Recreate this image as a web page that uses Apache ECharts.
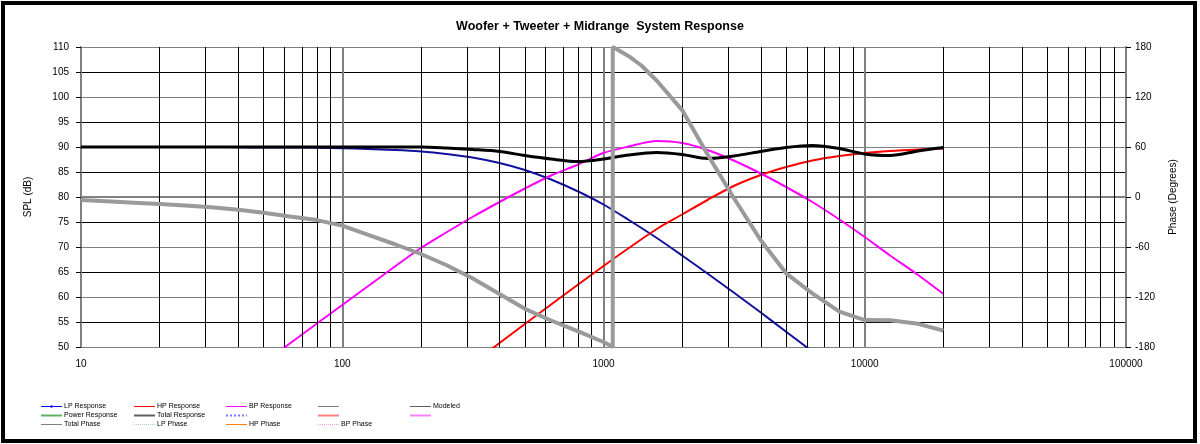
<!DOCTYPE html>
<html>
<head>
<meta charset="utf-8">
<script src="https://cdn.jsdelivr.net/npm/echarts@6/dist/echarts.min.js"></script>
<style>
  html, body { margin: 0; padding: 0; background: #fff; }
  #chart { width: 1200px; height: 444px; }
</style>
</head>
<body>
<div id="chart"></div>
<script>
// third-octave frequencies (Hz)
const freq = [10, 12.5, 16, 20, 25, 31.5, 40, 50, 63, 80, 100, 125, 160, 200, 250, 315, 400, 500, 630, 800,
  1000, 1250, 1600, 2000, 2500, 3150, 4000, 5000, 6300, 8000, 10000, 12500, 16000, 20000];

// SPL (dB)
const lpSpl = [90, 90, 90, 90, 90, 90, 89.95, 89.9, 89.9, 89.85, 89.76, 89.6, 89.4, 89.1, 88.6, 87.9, 86.8, 85.4, 83.5, 81.1,
  78.5, 75.4, 71.8, 68.3, 64.7, 60.9, 56.9, 53.05, 49.1, null, null, null, null, null];
const hpSpl = [null, null, null, null, null, null, null, null, null, null, null, null, null, null, null, 46.7, 50.8, 54.6, 58.5, 62.5,
  66.2, 69.8, 73.6, 76.5, 79.4, 82.2, 84.4, 86.0, 87.3, 88.2, 88.8, 89.2, 89.5, 89.7];
const bpSpl = [null, null, null, null, null, null, null, 46.9, 50.7, 54.7, 58.4, 62.1, 66.2, 69.8, 72.9, 76.0, 79.0, 81.7, 84.3, 86.5,
  88.8, 90.1, 91.2, 90.8, 89.4, 87.3, 84.7, 82.0, 79.0, 75.5, 72.0, 68.3, 64.4, 60.6];
const totalSpl = [90, 90, 90, 90, 90, 90, 90, 90, 90, 90, 90, 90, 90, 90, 89.8, 89.5, 89.1, 88.3, 87.6, 87.1,
  87.6, 88.4, 88.9, 88.5, 87.7, 88.2, 89.1, 89.9, 90.3, 89.7, 88.6, 88.3, 89.2, 89.9];

// total phase (degrees), wraps at ~1085 Hz
const phaseFreq = [10, 12.5, 16, 20, 25, 31.5, 40, 50, 63, 80, 100, 125, 160, 200, 250, 315, 400, 500, 630, 800,
  1000, 1085, 1085, 1150, 1250, 1400, 1600, 2000, 2500, 3150, 4000, 5000, 6300, 8000, 10000, 12500, 16000, 20000];
const phaseDeg = [-3.6, -5.1, -6.8, -8.4, -10.2, -12.2, -15.3, -18.9, -23.3, -27.7, -34.4, -45.2, -57.0, -68.4, -81.6, -97.5, -116.3, -134.2, -148.2, -161.2,
  -174.0, -180, 180, 175.5, 169.0, 157.5, 139.5, 104.3, 51.2, -0.9, -52, -91.6, -115.6, -137.6, -147.7, -147.8, -152.2, -160.4];

// minor vertical grid lines
const minorFreq = [20, 30, 40, 50, 60, 70, 80, 90, 200, 300, 400, 500, 600, 700, 800, 900,
  2000, 3000, 4000, 5000, 6000, 7000, 8000, 9000, 20000, 30000, 40000, 50000, 60000, 70000, 80000, 90000];

const pairs = (xs, ys) => xs.map((x, i) => [x, ys[i]]);

const font = 'Liberation Sans, Arial, sans-serif';
const noDot = { opacity: 0 };

// legend columns
const legendCols = [
  [
    { name: 'LP Response', lineStyle: { color: '#0000ff', width: 1 }, itemStyle: { color: '#0000ff' } },
    { name: 'Power Response', lineStyle: { color: '#5fb35f', width: 2 }, itemStyle: noDot },
    { name: 'Total Phase', lineStyle: { color: '#808080', width: 1 }, itemStyle: noDot },
  ],
  [
    { name: 'HP Response', lineStyle: { color: '#ff0000', width: 1 }, itemStyle: noDot },
    { name: 'Total Response', lineStyle: { color: '#606060', width: 2 }, itemStyle: noDot },
    { name: 'LP Phase', lineStyle: { color: '#a8d8a8', width: 1, type: 'dotted' }, itemStyle: noDot },
  ],
  [
    { name: 'BP Response', lineStyle: { color: '#ff00ff', width: 1 }, itemStyle: noDot },
    { name: '_a', lineStyle: { color: '#7c7cff', width: 2, type: 'dotted' }, itemStyle: noDot },
    { name: 'HP Phase', lineStyle: { color: '#ff8000', width: 1 }, itemStyle: noDot },
  ],
  [
    { name: '_b', lineStyle: { color: '#808080', width: 1 }, itemStyle: noDot },
    { name: '_c', lineStyle: { color: '#ff8080', width: 2 }, itemStyle: noDot },
    { name: 'BP Phase', lineStyle: { color: '#ff99dd', width: 1, type: 'dotted' }, itemStyle: noDot },
  ],
  [
    { name: 'Modeled', lineStyle: { color: '#606060', width: 1 }, itemStyle: noDot },
    { name: '_d', lineStyle: { color: '#ff80ff', width: 2 }, itemStyle: noDot },
  ],
];
const colLeft = [40, 133, 225, 317, 409];

const legends = legendCols.map((col, i) => ({
  orient: 'vertical',
  left: colLeft[i],
  top: 402,
  padding: 0,
  itemGap: 0,
  itemWidth: 21,
  itemHeight: 3,
  data: col,
  formatter: name => (name.charAt(0) === '_' ? ' ' : name),
  textStyle: { fontFamily: font, fontSize: 7, color: '#000', lineHeight: 9, padding: [0, 0, 0, -3] },
  selectedMode: false,
}));

const emptySeries = ['Power Response', 'Modeled', 'LP Phase', 'HP Phase', 'BP Phase', '_a', '_b', '_c', '_d'].map(n => ({
  name: n, type: 'line', data: [], symbol: 'none',
}));

const option = {
  animation: false,
  backgroundColor: '#fff',
  title: {
    text: 'Woofer + Tweeter + Midrange  System Response',
    left: 'center',
    top: 20,
    padding: 0,
    textStyle: { fontFamily: font, fontSize: 12.5, fontWeight: 'bold', color: '#000' },
  },
  legend: legends,
  grid: { left: 81, right: 74, top: 47, bottom: 97 },
  xAxis: {
    type: 'log',
    logBase: 10,
    min: 10,
    max: 100000,
    axisLine: { lineStyle: { color: '#808080', width: 2 } },
    axisTick: { show: false },
    axisLabel: { fontFamily: font, fontSize: 10, color: '#000', margin: 12, formatter: v => String(v) },
    splitLine: { show: true, lineStyle: { color: '#808080', width: 2 } },
  },
  yAxis: [
    {
      type: 'value',
      min: 50,
      max: 110,
      interval: 5,
      name: 'SPL (dB)',
      nameLocation: 'middle',
      nameGap: 48,
      nameTextStyle: { fontFamily: font, fontSize: 10, color: '#000' },
      axisLine: { show: true, lineStyle: { color: '#808080', width: 2 } },
      axisTick: { show: true, length: 5, lineStyle: { color: '#000' } },
      axisLabel: { fontFamily: font, fontSize: 10, color: '#000', margin: 12 },
      splitLine: { show: true, lineStyle: { color: ['#808080', '#000'], width: 1 } },
    },
    {
      type: 'value',
      min: -180,
      max: 180,
      interval: 60,
      position: 'right',
      name: 'Phase (Degrees)',
      nameLocation: 'middle',
      nameRotate: 90,
      nameGap: 42,
      nameTextStyle: { fontFamily: font, fontSize: 10, color: '#000' },
      axisLine: { show: true, lineStyle: { color: '#808080', width: 2 } },
      axisTick: { show: true, length: 5, lineStyle: { color: '#000' } },
      axisLabel: { fontFamily: font, fontSize: 10, color: '#000', margin: 9 },
      splitLine: { show: false },
    },
  ],
  graphic: [{
    type: 'rect',
    shape: { x: 3, y: 3, width: 1192, height: 438 },
    style: { fill: 'none', stroke: '#000', lineWidth: 4 },
    silent: true,
  }],
  series: [
    {
      name: '_grid',
      type: 'line',
      data: [],
      z: 1,
      markLine: {
        silent: true,
        symbol: ['none', 'none'],
        label: { show: false },
        lineStyle: { color: '#000', width: 1, type: 'solid' },
        data: minorFreq.map(v => ({ xAxis: v })),
      },
    },
    {
      name: 'LP Response', type: 'line', smooth: 0.3, symbol: 'circle', symbolSize: 3, showSymbol: false, z: 3,
      lineStyle: { color: '#10109c', width: 2 }, itemStyle: { color: '#0000ff' },
      data: pairs(freq, lpSpl),
    },
    {
      name: 'HP Response', type: 'line', smooth: 0.3, symbol: 'none', z: 3,
      lineStyle: { color: '#ff0000', width: 2 }, itemStyle: { color: '#ff0000' },
      data: pairs(freq, hpSpl),
    },
    {
      name: 'BP Response', type: 'line', smooth: 0.3, symbol: 'none', z: 3,
      lineStyle: { color: '#ff00ff', width: 2 }, itemStyle: { color: '#ff00ff' },
      data: pairs(freq, bpSpl),
    },
    {
      name: 'Total Response', type: 'line', smooth: 0.3, symbol: 'none', z: 4,
      lineStyle: { color: '#000', width: 3 }, itemStyle: { color: '#606060' },
      data: pairs(freq, totalSpl),
    },
    {
      name: 'Total Phase', type: 'line', yAxisIndex: 1, symbol: 'none', z: 5,
      lineStyle: { color: '#9a9a9a', width: 4 }, itemStyle: { color: '#808080' },
      data: pairs(phaseFreq, phaseDeg),
    },
  ].concat(emptySeries),
};

const myChart = echarts.init(document.getElementById('chart'));
myChart.setOption(option);
</script>
</body>
</html>
